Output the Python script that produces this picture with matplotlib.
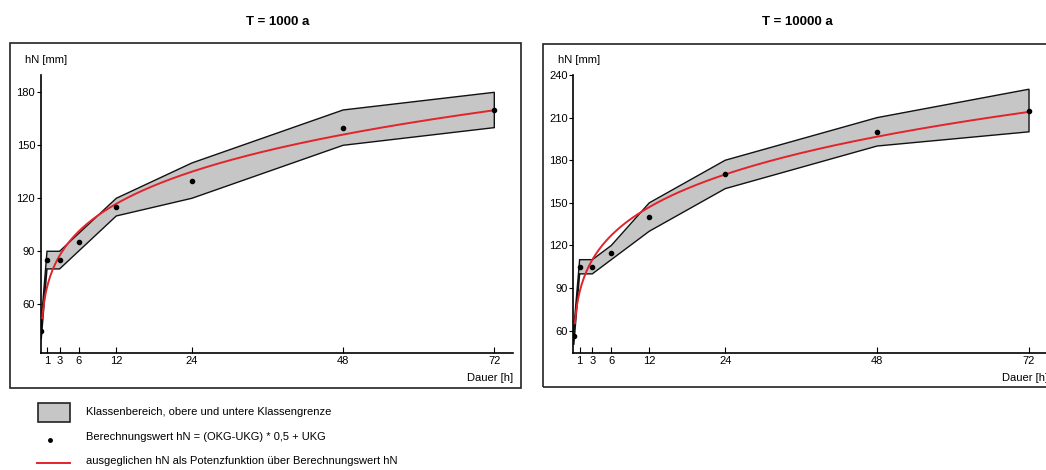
import numpy as np
import matplotlib
matplotlib.use("Agg")
import matplotlib.pyplot as plt
from matplotlib.patches import Rectangle
from matplotlib.lines import Line2D

plt.rcParams['font.family'] = ['Liberation Sans', 'DejaVu Sans']

# ---- data ----
durations = [0.083, 1, 3, 6, 12, 24, 48, 72]
xticks = [1, 3, 6, 12, 24, 48, 72]

# T = 1000 a
upper_1000 = [50, 90, 90, 100, 120, 140, 170, 180]
lower_1000 = [40, 80, 80, 90, 110, 120, 150, 160]
points_1000 = [45, 85, 85, 95, 115, 130, 160, 170]
yticks_1000 = [60, 90, 120, 150, 180]
curve_a_1000, curve_b_1000 = 69.6, 0.2086

# T = 10000 a
upper_10000 = [62, 110, 110, 120, 150, 180, 210, 230]
lower_10000 = [50, 100, 100, 110, 130, 160, 190, 200]
points_10000 = [56, 105, 105, 115, 140, 170, 200, 215]
yticks_10000 = [60, 90, 120, 150, 180, 210, 240]
curve_a_10000, curve_b_10000 = 87.3, 0.2097

titles = ["T = 1000 a", "T = 10000 a"]
legend_texts = ["Klassenbereich, obere und untere Klassengrenze",
                "Berechnungswert hN = (OKG-UKG) * 0,5 + UKG",
                "ausgeglichen hN als Potenzfunktion über Berechnungswert hN"]

W, H = 1046, 470
fig = plt.figure(figsize=(W / 100, H / 100), dpi=100)

def fx(px):
    return px / W

def fy(py):
    return 1 - py / H

panels = [
    dict(ax=(40.7, 75, 472.5, 278), ylim=(32.4, 189.8), up=upper_1000, lo=lower_1000,
         pts=points_1000, yt=yticks_1000, a=curve_a_1000, b=curve_b_1000,
         frame=(10, 43, 521, 388), title_x=278),
    dict(ax=(573.3, 75, 474.7, 278), ylim=(44.3, 240), up=upper_10000, lo=lower_10000,
         pts=points_10000, yt=yticks_10000, a=curve_a_10000, b=curve_b_10000,
         frame=(543, 44, 1060, 387), title_x=797),
]

for i, p in enumerate(panels):
    x0, y0, w, h = p['ax']
    ax = fig.add_axes([fx(x0), fy(y0 + h), w / W, h / H])
    ax.set_xlim(0, 75)
    ax.set_ylim(*p['ylim'])
    d = np.array(durations)
    xs = np.concatenate([d, d[::-1]])
    ys = np.concatenate([p['up'], p['lo'][::-1]])
    ax.fill(xs, ys, facecolor='#c6c6c6', edgecolor='#111111', lw=1.0, zorder=2)
    xc = np.linspace(0.25, 72, 400)
    ax.plot(xc, p['a'] * xc ** p['b'], color='#e3232b', lw=1.4, zorder=3)
    ax.plot(durations, p['pts'], 'o', color='black', ms=3, zorder=4)
    for s in ['top', 'right']:
        ax.spines[s].set_visible(False)
    for s in ['left', 'bottom']:
        ax.spines[s].set_linewidth(1.2)
    ax.set_xticks(xticks)
    ax.set_yticks(p['yt'])
    ax.tick_params(axis='x', direction='in', length=4, labelsize=8, pad=2)
    ax.tick_params(axis='y', direction='out', length=3, labelsize=8, pad=1)
    ax.set_facecolor('none')
    # frame
    fl, ft, fr, fb = p['frame']
    fig.patches.append(Rectangle((fx(fl), fy(fb)), (fr - fl) / W, (fb - ft) / H,
                                 transform=fig.transFigure, fill=False,
                                 edgecolor='#222222', lw=1.2, zorder=0))
    fig.text(fx(p['title_x']), fy(22), titles[i], ha='center', va='center',
             fontsize=9.5, fontweight='bold')
    fig.text(fx(fl + 15), fy(60), "hN [mm]", ha='left', va='center', fontsize=8)
    fig.text(fx(x0 + w), fy(378), "Dauer [h]", ha='right', va='center', fontsize=8)

# legend
fig.patches.append(Rectangle((fx(38), fy(422)), 32 / W, 19 / H, transform=fig.transFigure,
                             facecolor='#c6c6c6', edgecolor='#222222', lw=1.2))
fig.lines.append(Line2D([fx(50)], [fy(440)], marker='o', ms=2.5, color='black',
                        transform=fig.transFigure))
fig.lines.append(Line2D([fx(37), fx(70)], [fy(463), fy(463)], color='#e3232b', lw=1.4,
                        transform=fig.transFigure))
for txt, yy in zip(legend_texts, [412, 437, 461]):
    fig.text(fx(86), fy(yy), txt, ha='left', va='center', fontsize=8)

fig.savefig("out.png", dpi=100)
